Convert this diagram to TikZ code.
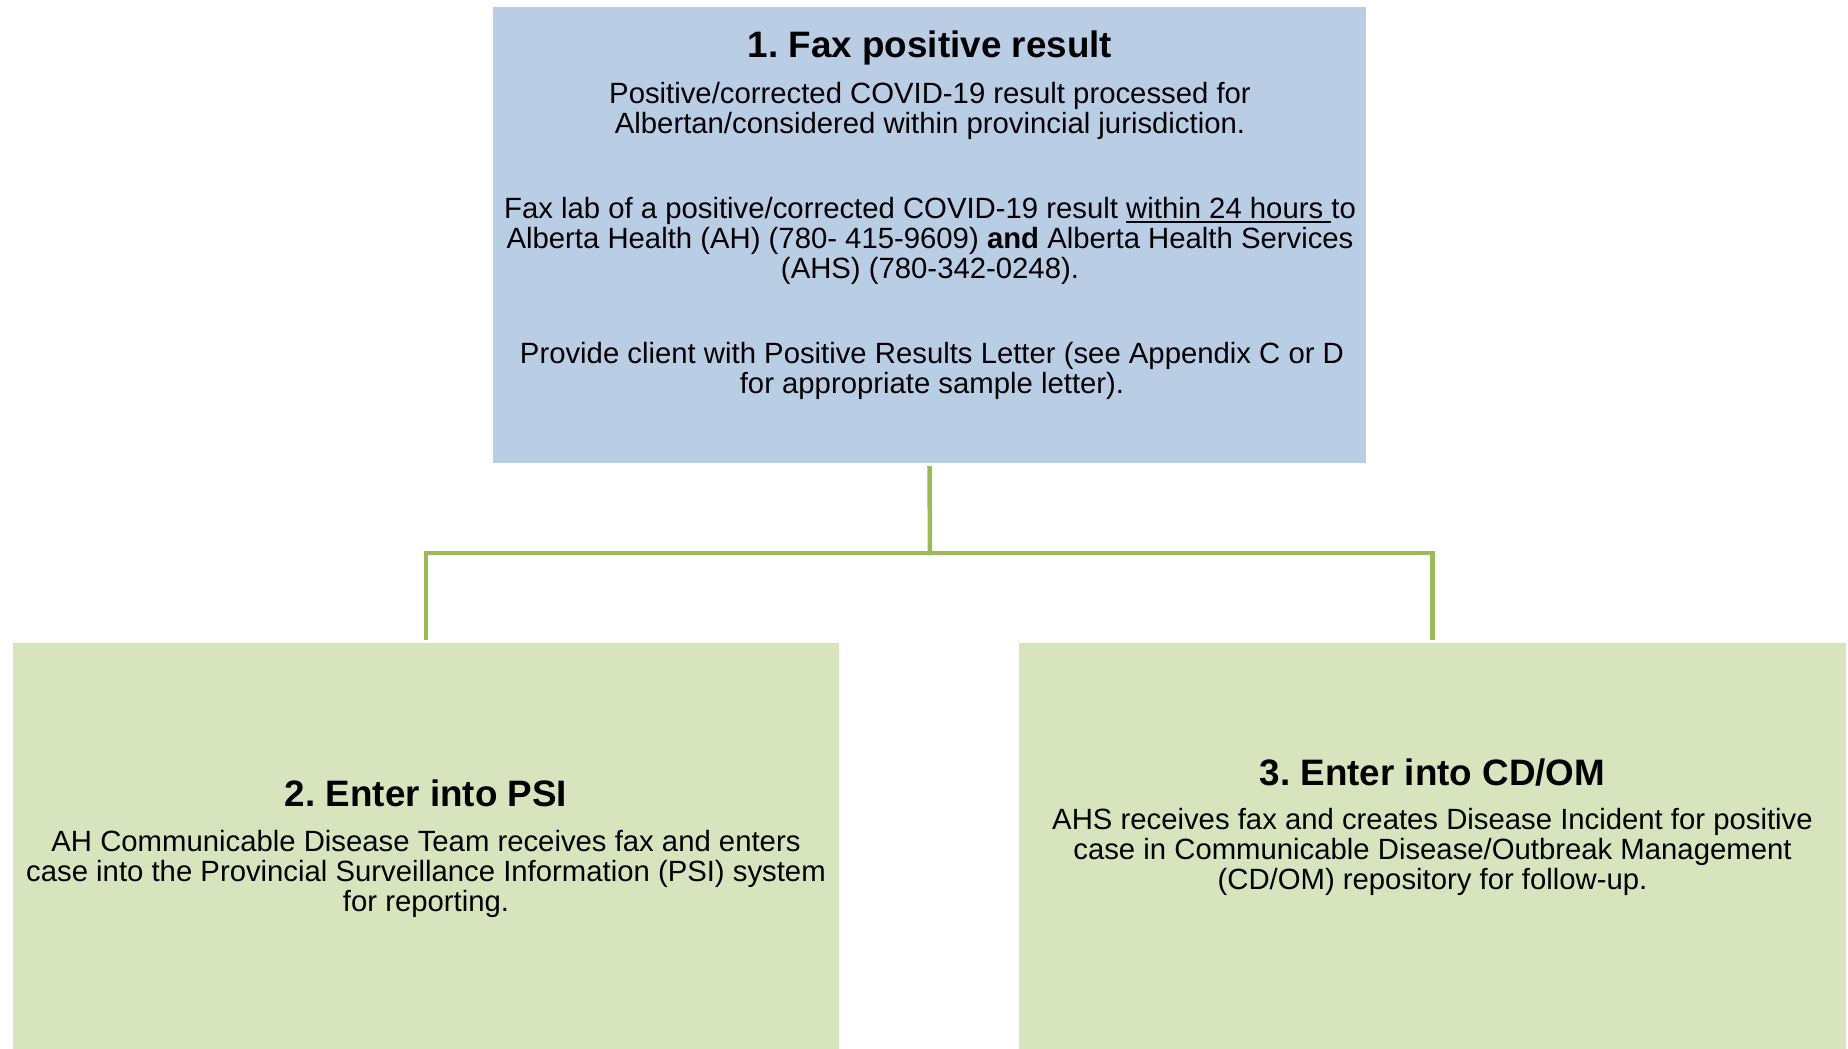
\documentclass[tikz,border=0pt]{standalone}
\usepackage{fontspec}
\setmainfont{Liberation Sans}
\frenchspacing
\definecolor{topblue}{HTML}{B9CDE5}
\definecolor{boxgreen}{HTML}{D7E4BD}
\definecolor{linegreen}{HTML}{9BBB59}
\newsavebox\ulbox
\newcommand{\myul}[1]{\sbox\ulbox{#1}\rlap{\rule[-5pt]{\wd\ulbox}{2.2pt}}\usebox\ulbox}
\tikzset{
  bluebox/.style={rectangle, fill=topblue, draw=none, inner sep=0pt, minimum width=873pt, minimum height=456pt},
  greenbox/.style={rectangle, fill=boxgreen, draw=none, inner sep=0pt, minimum width=826pt, minimum height=406pt},
  titletext/.style={inner sep=0pt, anchor=base, align=center, font=\fontsize{36.8}{40}\selectfont\bfseries},
  bodytext/.style={inner sep=0pt, anchor=base, align=center, font=\fontsize{29.3}{29.8}\selectfont},
  conn/.style={draw=linegreen, line width=4.5pt, line cap=rect, line join=miter}
}
\begin{document}
\begin{tikzpicture}[x=1pt,y=-1pt]
\useasboundingbox (0,0) rectangle (1848,1049);
% boxes
\node[bluebox] (n1) at (929.5,235) {};
\node[greenbox] (n2) at (426,846) {};
\node[greenbox, minimum width=827pt] (n3) at (1432.5,846) {};
% top box text (base anchor = last line baseline)
\node[titletext] (t1) at (930,57.5) {1. Fax positive result};
\node[bodytext] (p1a) at (930,133.5) {Positive/corrected COVID-19 result processed for\\Albertan/considered within provincial jurisdiction.};
\node[bodytext] (p1b) at (930,278) {Fax lab of a positive/corrected COVID-19 result \myul{within 24 hours\ }to\\Alberta Health (AH) (780- 415-9609) \textbf{and} Alberta Health Services\\(AHS) (780-342-0248).};
\node[bodytext] (p1c) at (932,393) {Provide client with Positive Results Letter (see Appendix C or D\\for appropriate sample letter).};
% left box text
\node[titletext] (t2) at (426,806.7) {2. Enter into PSI};
\node[bodytext] (p2) at (426,911.5) {AH Communicable Disease Team receives fax and enters\\case into the Provincial Surveillance Information (PSI) system\\for reporting.};
% right box text
\node[titletext] (t3) at (1432.5,785) {3. Enter into CD/OM};
\node[bodytext] (p3) at (1432.5,889.5) {AHS receives fax and creates Disease Incident for positive\\case in Communicable Disease/Outbreak Management\\(CD/OM) repository for follow-up.};
% connectors
\coordinate (j) at (930,553);
\draw[conn] ([yshift=-5pt]n1.south) -- (j);
\draw[conn] ([yshift=5pt]n2.north) |- (j) -| ([yshift=5pt]n3.north);
\end{tikzpicture}
\end{document}
